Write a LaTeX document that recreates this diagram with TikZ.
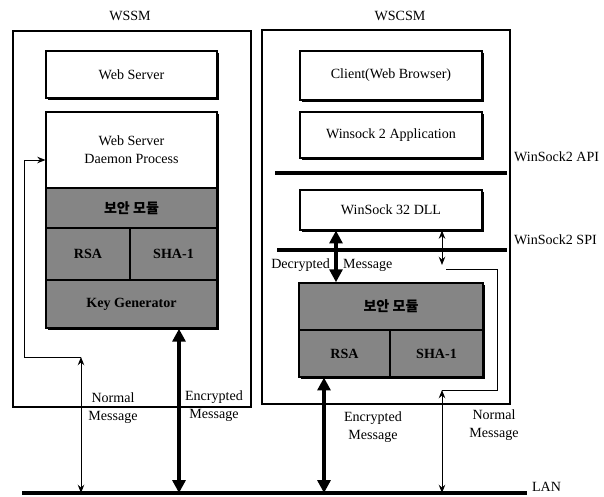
\documentclass[tikz,border=0pt]{standalone}
\usepackage{fontspec}
\setmainfont{Liberation Serif}
\newfontfamily\krfont{Noto Sans CJK KR}
\usetikzlibrary{arrows.meta,fit,shadows}
\newcommand\dgfont{\fontsize{12}{15.5}\selectfont}

\begin{document}
\begin{tikzpicture}[x=0.03cm, y=-0.03cm, font=\dgfont,
    frame/.style={draw, line width=0.9pt, inner sep=0pt},
    layer/.style={draw, line width=0.9pt, inner sep=0pt, fill=white,
      drop shadow={shadow xshift=1.6pt, shadow yshift=-1.6pt, fill=black, opacity=1}},
    cell/.style={draw, line width=1.3pt, inner sep=0pt, fill=black!48},
    bold/.style={font=\dgfont\bfseries},
    bus/.style={line width=2.6pt},
    wire/.style={line width=0.8pt},
    thin/.style={wire, {Stealth[length=7pt,width=5.5pt]}-{Stealth[length=7pt,width=5.5pt]}},
    fat/.style={line width=3pt, {Triangle[length=11pt,width=11pt]}-{Triangle[length=11pt,width=11pt]}}]
  \useasboundingbox (0,0) rectangle (604,497);

  % server side
  \node[frame, fit={(13,31) (251,407)}] (wssm) {};
  \node (wssmlbl) at (130,16) {WSSM};
  \node[layer, fit={(46,51) (217,98)}, label=center:Web Server] (websrv) {};
  \node[layer, fit={(46,112) (217,328)}] (dstack) {};
  \node[frame, fit={(46,112) (217,188)},
    label={[align=center]center:Web Server\\Daemon Process}] (daemon) {};
  \node[cell, fit={(46,188) (217,228)}, label={[bold]center:\krfont 보안 모듈}] (secL) {};
  \node[cell, fit={(46,228) (130,280)}, label={[bold]center:RSA}] (rsaL) {};
  \node[cell, fit={(130,228) (217,280)}, label={[bold]center:SHA-1}] (shaL) {};
  \node[cell, fit={(46,280) (217,328)}, label={[bold]center:Key Generator}] (keygen) {};

  % client side
  \node[frame, fit={(262,30) (510,404)}] (wscsm) {};
  \node (wscsmlbl) at (400,16) {WSCSM};
  \node[layer, fit={(300,51) (482,100)}, label=center:Client(Web Browser)] (client) {};
  \node[layer, fit={(300,112) (482,158)}, label=center:Winsock 2 Application] (app) {};
  \node[layer, fit={(300,190) (482,230)}, label=center:WinSock 32 DLL] (dll) {};
  \node[layer, fit={(299,283) (483,377)}] (rstack) {};
  \node[cell, fit={(299,283) (483,330)}, label={[bold]center:\krfont 보안 모듈}] (secR) {};
  \node[cell, fit={(299,330) (390,377)}, label={[bold]center:RSA}] (rsaR) {};
  \node[cell, fit={(390,330) (483,377)}, label={[bold]center:SHA-1}] (shaR) {};

  \coordinate (apiW) at (275,173);
  \coordinate (apiE) at (507,173);
  \coordinate (spiW) at (277,250);
  \coordinate (spiE) at (507,250);
  \draw[bus] (apiW) -- (apiE);
  \draw[bus] (spiW) -- (spiE);
  \node[anchor=west] (apilbl) at (510,157) {WinSock2 API};
  \node[anchor=west] (spilbl) at (510,240) {WinSock2 SPI};

  % LAN
  \coordinate (lanW) at (22,493);
  \coordinate (lanE) at (527,493);
  \draw[line width=3.4pt] (lanW) -- (lanE);
  \node[anchor=west] (lanlbl) at (528,487) {LAN};

  % message paths
  \coordinate (xnl) at (81,0);
  \coordinate (xel) at (179,0);
  \coordinate (xer) at (324,0);
  \coordinate (xdr) at (336,0);
  \coordinate (xtr) at (442,0);
  \coordinate (nlbend) at (81,357);
  \coordinate (fb) at (24,160);
  \draw[thin] (lanW -| xnl) -- (nlbend);
  \draw[wire, -{Stealth[length=7pt,width=5.5pt]}] (nlbend) -| (fb) -- (daemon.west |- fb);
  \draw[fat] (keygen.south -| xel) -- (lanW -| xel);

  \draw[fat] (dll.south -| xdr) -- (secR.north -| xdr);
  \draw[fat] (rstack.south -| xer) -- (lanW -| xer);
  \coordinate (tr1) at (442,265);
  \coordinate (trk) at (446,269);
  \coordinate (trc) at (497,390);
  \coordinate (trb) at (442,390);
  \draw[thin] (dll.south -| xtr) -- (tr1);
  \draw[wire] (trk) -| (trc) -- (trb);
  \draw[thin] (trb) -- (lanW -| trb);

  \node[align=center] (nmL) at (113,408) {Normal\\Message};
  \node[align=center] (emL) at (214,406) {Encrypted\\Message};
  \node[anchor=east] (decr) at (334,265) {Decrypted};
  \node[anchor=west] (decm) at (339,265) {Message};
  \node[align=center] (emR) at (373,427) {Encrypted\\Message};
  \node[align=center] (nmR) at (494,425) {Normal\\Message};
\end{tikzpicture}
\end{document}
